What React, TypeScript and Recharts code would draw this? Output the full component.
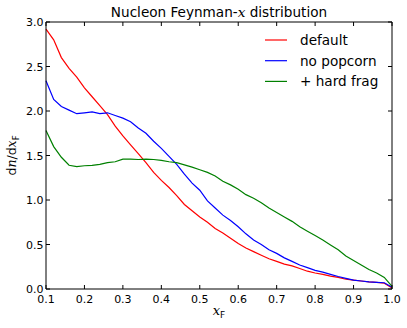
import React from "react";
import { LineChart, Line, XAxis, YAxis, Legend } from "recharts";

const xF = [0.10,0.12,0.14,0.16,0.18,0.20,0.22,0.24,0.26,0.28,0.30,0.32,0.34,0.36,0.38,0.40,0.42,0.44,0.46,0.48,0.50,0.52,0.54,0.56,0.58,0.60,0.62,0.64,0.66,0.68,0.70,0.72,0.74,0.76,0.78,0.80,0.82,0.84,0.86,0.88,0.90,0.92,0.94,0.96,0.98,1.00];
const defaultVals = [2.92,2.80,2.60,2.48,2.38,2.26,2.16,2.06,1.96,1.83,1.72,1.62,1.52,1.42,1.31,1.22,1.14,1.05,0.95,0.88,0.81,0.75,0.68,0.63,0.57,0.51,0.46,0.42,0.38,0.34,0.31,0.28,0.26,0.23,0.20,0.18,0.165,0.145,0.13,0.11,0.10,0.09,0.08,0.075,0.065,0.01];
const noPopcornVals = [2.34,2.13,2.05,2.01,1.97,1.98,1.99,1.97,1.98,1.95,1.92,1.88,1.81,1.75,1.66,1.58,1.49,1.40,1.29,1.19,1.11,0.99,0.91,0.83,0.77,0.70,0.62,0.55,0.50,0.44,0.40,0.35,0.31,0.27,0.24,0.21,0.19,0.165,0.14,0.12,0.10,0.09,0.08,0.075,0.07,0.02];
const hardFragVals = [1.78,1.60,1.48,1.39,1.375,1.385,1.39,1.40,1.42,1.43,1.46,1.46,1.455,1.46,1.455,1.445,1.43,1.42,1.395,1.37,1.34,1.31,1.27,1.21,1.17,1.12,1.06,1.02,0.97,0.91,0.86,0.81,0.76,0.70,0.65,0.60,0.55,0.495,0.44,0.37,0.32,0.27,0.22,0.18,0.13,0.03];

const xTicks = [0.1,0.2,0.3,0.4,0.5,0.6,0.7,0.8,0.9,1.0];
const yTicks = [0,0.5,1.0,1.5,2.0,2.5,3.0];
const seriesNames = ["default","no popcorn","+ hard frag"];
const seriesKeys = ["d","np","hf"];
const seriesColors = ["#ff0000","#0000ff","#008000"];

const data = xF.map((x, i) => ({ x, d: defaultVals[i], np: noPopcornVals[i], hf: hardFragVals[i] }));

const FONT = "'DejaVu Sans', sans-serif";
const TL = 4;

const BottomTick = (p: any) => (
  <g>
    <line x1={p.x} y1={p.y} x2={p.x} y2={p.y - TL} stroke="#000" strokeWidth={1} />
    <text x={p.x} y={p.y + 13.5} textAnchor="middle" fontSize={11} fontFamily={FONT} fill="#000">{p.payload.value.toFixed(1)}</text>
  </g>
);
const TopTick = (p: any) => (
  <line x1={p.x} y1={p.y} x2={p.x} y2={p.y + TL} stroke="#000" strokeWidth={1} />
);
const LeftTick = (p: any) => (
  <g>
    <line x1={p.x} y1={p.y} x2={p.x + TL} y2={p.y} stroke="#000" strokeWidth={1} />
    <text x={p.x - 2.5} y={p.y + 4} textAnchor="end" fontSize={11} fontFamily={FONT} fill="#000">{p.payload.value.toFixed(1)}</text>
  </g>
);
const RightTick = (p: any) => (
  <line x1={p.x} y1={p.y} x2={p.x - TL} y2={p.y} stroke="#000" strokeWidth={1} />
);

const LegendBox = () => (
  <svg width={140} height={70} style={{ display: "block" }}>
    {seriesNames.map((n, i) => (
      <g key={n}>
        <line x1={5} x2={27} y1={12 + i * 20.7} y2={12 + i * 20.7} stroke={seriesColors[i]} strokeWidth={1.2} />
        <text x={40} y={17 + i * 20.7} fontSize={13.6} fontFamily={FONT} fill="#000">{n}</text>
      </g>
    ))}
  </svg>
);

export default function App() {
  return (
    <div style={{ position: "absolute", left: 0, top: 0, width: 407, height: 328, background: "#fff" }}>
      <LineChart width={407} height={328} data={data} margin={{ top: 21, right: 14, bottom: 0, left: 0 }}>
        <XAxis dataKey="x" type="number" domain={[0.1, 1.0]} ticks={xTicks} height={39} tickSize={0} tickMargin={0}
          axisLine={{ stroke: "#000", strokeWidth: 1 }} tickLine={false} tick={<BottomTick />} interval={0} />
        <XAxis xAxisId="top" orientation="top" dataKey="x" type="number" domain={[0.1, 1.0]} ticks={xTicks} height={1}
          tickSize={0} tickMargin={0} axisLine={{ stroke: "#000", strokeWidth: 1 }} tickLine={false} tick={<TopTick />} interval={0} />
        <YAxis type="number" domain={[0, 3]} ticks={yTicks} width={46} tickSize={0} tickMargin={0}
          axisLine={{ stroke: "#000", strokeWidth: 1 }} tickLine={false} tick={<LeftTick />} interval={0} />
        <YAxis yAxisId="right" orientation="right" type="number" domain={[0, 3]} ticks={yTicks} width={1} tickSize={0} tickMargin={0}
          axisLine={{ stroke: "#000", strokeWidth: 1 }} tickLine={false} tick={<RightTick />} interval={0} />
        {seriesKeys.map((k, i) => (
          <Line key={k} dataKey={k} name={seriesNames[i]} stroke={seriesColors[i]} strokeWidth={1.2} dot={false}
            type="linear" isAnimationActive={false} />
        ))}
        <Line xAxisId="top" yAxisId="right" dataKey="hf" stroke="none" dot={false} legendType="none"
          isAnimationActive={false} />
        <Legend layout="vertical" align="center" verticalAlign="middle" content={() => <LegendBox />}
          wrapperStyle={{ position: "absolute", left: 260, top: 28, width: 140, height: 70 }} />
      </LineChart>
      <svg width={407} height={328} style={{ position: "absolute", left: 0, top: 0, pointerEvents: "none" }}>
        <text x={219} y={17} textAnchor="middle" fontSize={13.6} fontFamily={FONT} fill="#000">
          Nucleon Feynman-<tspan fontFamily="'DejaVu Serif', serif" fontStyle="italic">x</tspan> distribution
        </text>
        <text x={219} y={315} textAnchor="middle" fontSize={13} fontFamily="'DejaVu Serif', serif" fill="#000">
          <tspan fontStyle="italic">x</tspan><tspan fontSize={9} dy={2.5} fontFamily={FONT}>F</tspan>
        </text>
        <text transform="translate(16,155.5) rotate(-90)" textAnchor="middle" fontSize={12.5} fontFamily={FONT} fill="#000">
          d<tspan fontFamily="'DejaVu Serif', serif" fontStyle="italic">n</tspan>/d<tspan fontFamily="'DejaVu Serif', serif" fontStyle="italic">x</tspan><tspan fontSize={8.5} dy={2.5}>F</tspan>
        </text>
      </svg>
    </div>
  );
}
